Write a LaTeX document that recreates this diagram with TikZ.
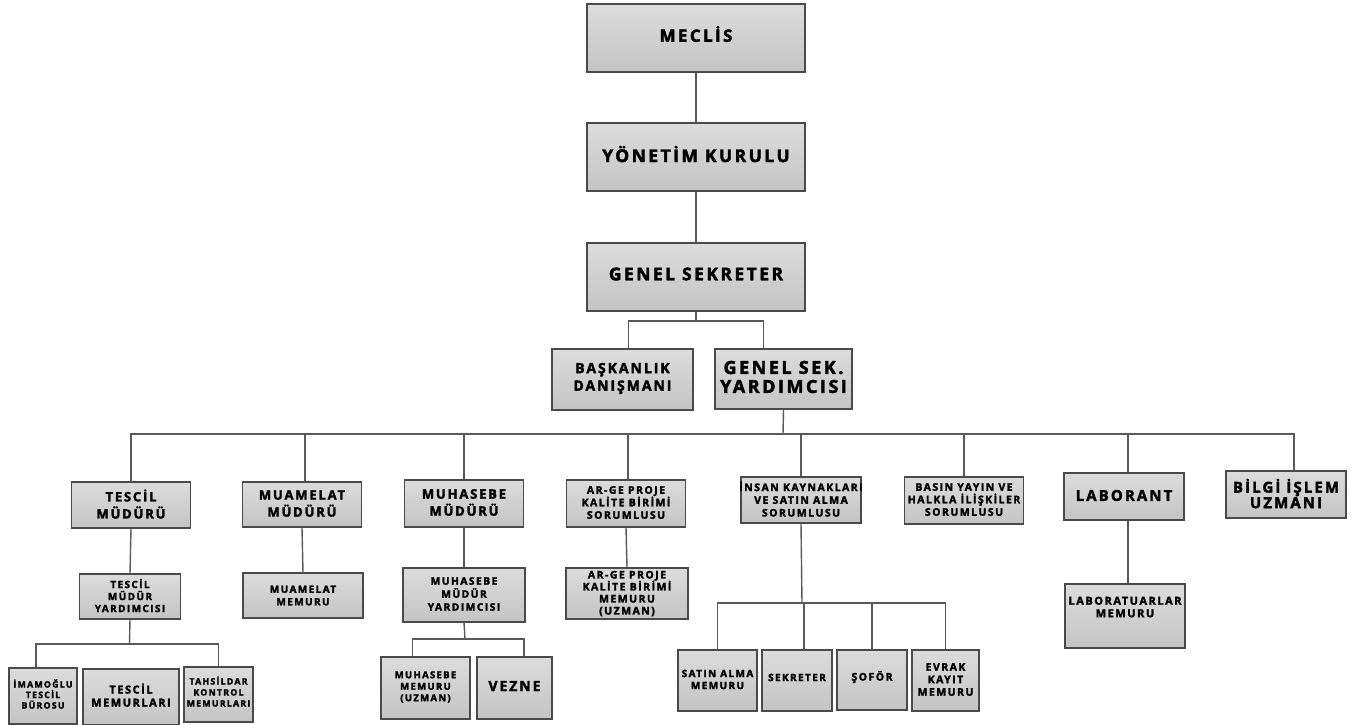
\documentclass[tikz,border=0pt]{standalone}
\usepackage{fontspec}
\setmainfont{Open Sans}[LetterSpace=14, BoldFeatures={FakeBold=2.2}]
\usetikzlibrary{calc}
\definecolor{boxedge}{HTML}{4A4A4A}
\definecolor{connc}{HTML}{5A5A5A}
\definecolor{metalA}{HTML}{DCDCDC}
\definecolor{metalB}{HTML}{F1F1F1}
\definecolor{metalC}{HTML}{C4C4C4}
\tikzset{
  obox/.style={draw=boxedge, line width=1.1pt, top color=metalA, middle color=metalB, bottom color=metalC, inner sep=0pt},
  conn/.style={draw=connc, line width=1.4pt},
  otext/.style={align=center, inner sep=0pt, text=black}
}
\newcommand\obx[9]{%
  \node[obox, minimum width=#4pt, minimum height=#5pt] (#1) at (#2,#3) {};
  \node[otext, font=\fontsize{#6}{#7}\selectfont\bfseries] (#1t) at ([yshift=#8pt]#1.center) {#9};
}
\begin{document}
\begin{tikzpicture}[x=1pt,y=-1pt]
\useasboundingbox (0,0) rectangle (1352,725);
% top chain
\obx{meclis}{696}{38}{218}{68}{17}{19}{4}{MECLİS}
\obx{yk}{696}{157}{218}{68}{17.5}{19}{3}{YÖNETİM KURULU}
\obx{gs}{696}{277}{218}{68}{17.5}{19}{3}{GENEL SEKRETER}
\obx{bd}{622.5}{379.5}{141}{61}{14}{17.5}{1}{BAŞKANLIK\\DANIŞMANI}
\obx{gsy}{783.5}{379}{137}{60}{18}{19}{2}{GENEL SEK.\\YARDIMCISI}
% level 3
\obx{tm}{131}{505}{119}{46}{13}{17}{1}{TESCİL\\MÜDÜRÜ}
\obx{mm}{302}{504.5}{119}{45}{13}{17}{1}{MUAMELAT\\MÜDÜRÜ}
\obx{mh}{464}{503.5}{119}{47}{13}{17}{1}{MUHASEBE\\MÜDÜRÜ}
\obx{ar}{626}{503.5}{119}{47}{10.5}{12.5}{1}{AR-GE PROJE\\KALİTE BİRİMİ\\SORUMLUSU}
\obx{ik}{801}{500}{120}{46}{10.5}{12.7}{1}{İNSAN KAYNAKLARI\\VE SATIN ALMA\\SORUMLUSU}
\obx{by}{964}{500.5}{119}{47}{10.5}{12.5}{1}{BASIN YAYIN VE\\HALKLA İLİŞKİLER\\SORUMLUSU}
\obx{lb}{1124}{496.5}{120}{47}{15}{17}{1}{LABORANT}
\obx{bi}{1286}{494.5}{120}{47}{15}{15.5}{1}{BİLGİ İŞLEM\\UZMANI}
% level 4
\obx{tmy}{130}{596.5}{101}{45}{10}{12}{1}{TESCİL\\MÜDÜR\\YARDIMCISI}
\obx{mmem}{303}{595.5}{120}{45}{10}{12.5}{0}{MUAMELAT\\MEMURU}
\obx{mmy}{464}{595}{122}{54}{10.3}{13}{1}{MUHASEBE\\MÜDÜR\\YARDIMCISI}
\obx{arm}{627}{593.5}{122}{51}{10.5}{12}{0}{AR-GE PROJE\\KALİTE BİRİMİ\\MEMURU\\(UZMAN)}
\obx{labm}{1125}{616}{120}{64}{11}{12.5}{9}{LABORATUARLAR\\MEMURU}
% level 5
\obx{imam}{43}{696}{68}{56}{8.8}{10.5}{2}{İMAMOĞLU\\TESCİL\\BÜROSU}
\obx{tmem}{131}{697}{96}{56}{11}{13}{2}{TESCİL\\MEMURLARI}
\obx{tah}{218.5}{694.5}{69}{55}{8.8}{11}{3}{TAHSİLDAR\\KONTROL\\MEMURLARI}
\obx{mum}{425.5}{688}{89}{62}{9.5}{11.5}{1}{MUHASEBE\\MEMURU\\(UZMAN)}
\obx{vezne}{514.5}{688}{75}{62}{14}{16}{2}{VEZNE}
\obx{sam}{717.5}{680.5}{79}{61}{10}{12}{1}{SATIN ALMA\\MEMURU}
\obx{sek}{797}{680.5}{70}{61}{10}{12}{3}{SEKRETER}
\obx{sof}{872}{680}{70}{60}{10.5}{12}{3}{ŞOFÖR}
\obx{ev}{945.5}{680.5}{67}{61}{10.5}{12.5}{1}{EVRAK\\KAYIT\\MEMURU}
% connectors
\draw[conn] (meclis.south) -- (yk.north);
\draw[conn] (yk.south) -- (gs.north);
\coordinate (b1) at (696,321);
\draw[conn] (gs.south) -- (b1);
\draw[conn] ([xshift=6pt]bd.north) |- (b1) -| ([xshift=-20pt]gsy.north);
\coordinate (b2) at (783,434);
\draw[conn] (gsy.south) -- (b2);
\draw[conn] (tm.north) |- (b2) -| ([xshift=8pt]bi.north);
\draw[conn] ([xshift=3pt]mm.north) |- (b2);
\draw[conn] (mh.north) |- (b2);
\draw[conn] ([xshift=2pt]ar.north) |- (b2);
\draw[conn] (ik.north) |- (b2);
\draw[conn] (by.north) |- (b2);
\draw[conn] ([xshift=4pt]lb.north) |- (b2);
\draw[conn] (tm.south) -- (tmy.north);
\draw[conn] (mm.south) -- (mmem.north);
\draw[conn] (mh.south) -- (mmy.north);
\draw[conn] (ar.south) -- (arm.north);
\draw[conn] ([xshift=4pt]lb.south) -- ([xshift=3pt]labm.north);
\coordinate (b4) at (129.5,644);
\draw[conn] (tmy.south) -- (b4);
\draw[conn] ([xshift=-7pt]imam.north) |- (b4) -| (tah.north);
\coordinate (b5) at (465,639);
\draw[conn] (mmy.south) -- (b5);
\draw[conn] ([xshift=-13pt]mum.north) |- (b5) -| ([xshift=9.5pt]vezne.north);
\coordinate (b6) at (802,603);
\draw[conn] (ik.south) -- (b6);
\draw[conn] (sam.north) |- (b6) -| (ev.north);
\draw[conn] ([xshift=7pt]sek.north) |- (b6);
\draw[conn] (sof.north) |- (b6);
\end{tikzpicture}
\end{document}
